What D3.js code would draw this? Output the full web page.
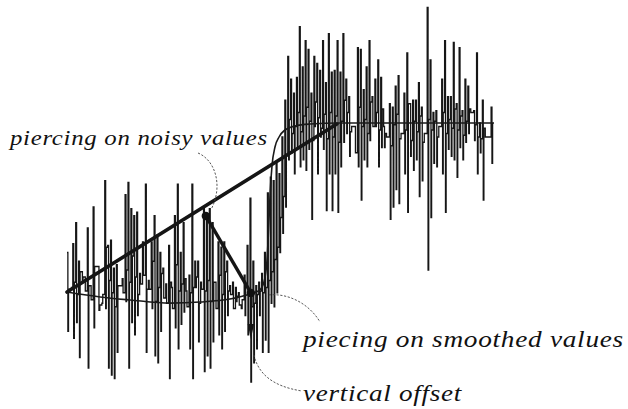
<!DOCTYPE html>
<html>
<head>
<meta charset="utf-8">
<script src="https://cdn.jsdelivr.net/npm/d3@7"></script>
<style>
  html, body { margin: 0; padding: 0; background: #fff; }
  svg { display: block; }
</style>
</head>
<body>
<svg id="chart" width="628" height="409"></svg>
<script>
// Noisy step signal. Each column holds [high, low] spike extremes; the
// matching *Rest arrays give the level the signal settles at until the next column.
// Low plateau sits at 0, high plateau at 10.
const lowSegment = [
  [2.6,-1.9],[0.5,0.5],[3.1,-2.3],[4.3,-1.4],[2.1,-3.4],[1.5,1.0],[1.2,0.4],[4.0,-4.0],
  [0.7,-0.1],[5.2,-1.7],[1.8,1.8],[-0.7,-0.4],[-0.3,0.2],[6.7,-0.6],[3.0,-4.0],[3.3,-4.4],
  [1.7,-4.6],[1.9,-3.1],[0.7,0.7],[1.1,0.3],[5.9,-0.2],[6.6,-4.0],[5.1,-1.4],[4.7,-2.1],
  [4.9,-1.0],[1.4,0.8],[3.2,1.3],[6.5,-3.1],[1.0,0.5],[3.2,-0.6],[4.7,-3.3],[3.6,-3.7],
  [2.6,-1.9],[1.7,0.0],[0.8,-0.3],[3.0,-4.6],[0.6,-0.6],[4.7,-1.7],[6.5,-2.9],[2.6,-1.5],
  [4.3,-0.8],[0.4,-0.5],[1.3,-2.9],[6.5,-4.6],[2.1,0.6],[2.1,-2.5],[0.9,0.5],[5.1,-4.2],
  [4.6,-3.3],[5.1,-4.0],[4.3,-2.5],[0.9,-0.6],[3.2,-2.1],[2.9,-2.9],[3.2,-1.9],[2.1,-1.0],
  [0.7,0.2],[0.9,-0.6],[0.6,-0.2],[0.3,-0.4],[-0.6,-0.1],[1.3,-1.0],[3.0,-2.1],[5.7,-4.8],
  [2.1,-3.7],[0.7,-2.9],[0.9,-1.0]
];
const lowRest = [
  0.5,0.6,0.9,0.2,1.5,1.2,0.4,0.7,-0.1,1.8,1.8,-0.4,0.2,2.9,1.0,0.3,
  -0.5,0.7,0.7,0.3,1.6,0.9,2.4,1.2,0.2,0.8,1.3,0.5,0.5,2.1,-0.2,0.6,
  1.4,0.0,-0.3,0.9,-0.6,1.9,0.4,0.8,1.1,-0.5,0.3,0.6,1.2,-0.3,0.5,0.4,
  1.0,-0.2,0.9,-0.6,1.3,0.2,1.5,0.4,0.2,-0.6,0.1,-0.4,-0.1,0.8,0.3,-0.5,
  -0.3,0.2,0.4
];
const riseSegment = [
  [1.4,-3.1],[2.6,-2.4],[6.0,-3.1],[6.9,-0.3],[6.7,-0.5],[7.7,0.3],[7.1,2.6],[9.2,3.7],
  [11.3,5.2],[13.8,7.9],[12.5,8.3],[11.7,7.1],[12.6,8.6],[15.5,7.5],[13.2,7.9],[14.7,7.3],
  [14.2,8.5],[11.7,4.5],[13.8,9.8],[13.4,7.1],[13.0,9.2],[14.7,8.5]
];
const riseRest = [0.3,0.6,1.0,1.5,2.2,2.9,4.6,5.8,8.2,10.2,9.4,9.8,10.6,9.5,10.4,10.9,10.1,9.0,11.2,10.3,9.7,10.5];
const highSegment = [
  [12.3,5.0],[15.1,7.1],[12.9,5.0],[13.0,7.1],[14.7,4.9],[12.9,7.5],[15.1,8.9],[12.5,9.4],
  [11.5,8.1],[9.8,9.8],[9.8,8.3],[14.3,7.5],[14.2,5.6],[11.9,7.9],[13.2,7.5],[14.7,9.0],
  [11.5,9.8],[12.5,9.8],[13.6,7.5],[12.6,8.6],[9.8,8.6],[9.2,9.2],[11.1,4.5],[10.9,5.2],
  [12.1,6.2],[12.7,5.4],[9.4,9.4],[11.7,7.1],[14.0,4.9],[11.1,8.1],[11.3,7.3],[11.3,7.9],
  [12.3,5.8],[10.9,6.7],[9.4,9.4],[16.6,1.6],[13.6,4.6],[10.6,7.7],[10.7,7.5],[9.8,9.8],
  [12.5,7.1],[14.7,4.9],[11.5,8.5],[11.5,8.1],[14.6,7.9],[11.1,6.9],[14.3,8.6],[10.7,7.9],
  [12.5,8.9],[12.1,9.4],[10.6,10.6],[10.7,9.0],[14.0,7.1],[10.0,8.3],[11.3,5.6],[9.2,9.2],
  [9.2,9.2],[10.9,7.7]
];
const highRest = [
  9.1,10.6,9.2,10.4,8.9,10.1,11.3,10.6,9.5,9.8,8.3,10.9,9.8,10.2,9.4,11.2,
  9.8,10.6,9.6,10.8,9.4,9.2,8.7,9.9,10.5,9.1,9.4,9.6,11.1,9.0,10.1,9.5,
  10.4,8.9,9.4,10.2,9.6,10.1,9.2,9.8,10.6,9.4,10.2,9.7,10.8,9.6,10.4,9.3,
  10.1,10.8,10.6,9.9,9.2,9.1,9.7,9.2,9.2,10.0
];

// Smoothed signal (time, value)
const smoothT = [0, 11.4, 21.7, 35.5, 45.8, 56.1, 63.0, 66.4, 67.8, 68.8, 69.4, 69.9, 70.6, 71.6, 73.0, 75.0, 78.5, 83.6, 94.0, 146.3];
const smoothV = [0.34, 0.06, -0.11, -0.29, -0.23, -0.06, 0.23, 0.46, 0.91, 2.06, 3.89, 5.89, 7.6, 8.63, 9.2, 9.6, 9.83, 9.94, 10, 10];

// Chord between the two plateau anchors
const chordT = [0, 92.9];
const chordV = [0.34, 9.94];

// Piercing points and the vertical offset
const pierceNoisy = {t: 47.8, v: 4.69};
const pierceSmooth = {t: 63.3, v: 0.29};
const offsetTip = {t: 63.3, v: -2.34};

const labels = ["piercing on noisy values", "piecing on smoothed values", "vertical offset"];

const columns = lowSegment.concat(riseSegment, highSegment);
const rests = lowRest.concat(riseRest, highRest);
const nCols = columns.length;
// spike up, spike down, then settle for the rest of the column
const samples = [];
columns.forEach((c, k) => {
  samples.push([k, c[0]]);
  samples.push([k + 0.3, c[1]]);
  samples.push([k + 0.52, rests[k]]);
});
samples.push([nCols, rests[nCols - 1]]);

const svg = d3.select("#chart");
const x = d3.scaleLinear().domain([0, nCols]).range([67, 494]);
const y = d3.scaleLinear().domain([0, 10]).range([298, 123]);

// noisy signal
svg.append("path")
  .datum(samples)
  .attr("fill", "none")
  .attr("stroke", "#161616")
  .attr("stroke-width", 1.3)
  .attr("d", d3.line().x(d => x(d[0])).y(d => y(d[1])).curve(d3.curveStepAfter));

// smoothed signal
const smooth = smoothT.map((t, i) => [t, smoothV[i]]);
svg.append("path")
  .datum(smooth)
  .attr("fill", "none")
  .attr("stroke", "#1a1a1a")
  .attr("stroke-width", 1.6)
  .attr("d", d3.line().x(d => x(d[0])).y(d => y(d[1])).curve(d3.curveMonotoneX));

// chord
svg.append("line")
  .attr("x1", x(chordT[0])).attr("y1", y(chordV[0]))
  .attr("x2", x(chordT[1])).attr("y2", y(chordV[1]))
  .attr("stroke", "#151515").attr("stroke-width", 3.6).attr("stroke-linecap", "round");

// arrow from noisy piercing to smoothed piercing
svg.append("line")
  .attr("x1", x(pierceNoisy.t)).attr("y1", y(pierceNoisy.v))
  .attr("x2", x(pierceSmooth.t)).attr("y2", y(pierceSmooth.v))
  .attr("stroke", "#151515").attr("stroke-width", 3.4);

// vertical offset arrow
const tipX = x(offsetTip.t), tipY = y(offsetTip.v);
svg.append("line")
  .attr("x1", tipX).attr("y1", y(pierceSmooth.v))
  .attr("x2", tipX).attr("y2", tipY - 10)
  .attr("stroke", "#151515").attr("stroke-width", 2.4);
svg.append("path")
  .attr("d", `M${tipX},${tipY} L${tipX - 3.2},${tipY - 15} L${tipX + 3.2},${tipY - 15} Z`)
  .attr("fill", "#151515");

// piercing dots
[pierceNoisy, pierceSmooth].forEach(p => {
  svg.append("circle").attr("cx", x(p.t)).attr("cy", y(p.v)).attr("r", 4.2).attr("fill", "#111");
});

// dashed callouts
const callout = (d) => svg.append("path").attr("d", d)
  .attr("fill", "none").attr("stroke", "#444").attr("stroke-width", 0.9)
  .attr("stroke-dasharray", "2.2,1.6");
const n1x = x(pierceNoisy.t), n1y = y(pierceNoisy.v);
callout(`M198,153 C215,160 223,185 ${n1x + 6},${n1y - 8}`);
const s1x = x(pierceSmooth.t), s1y = y(pierceSmooth.v);
callout(`M${s1x + 18},${s1y + 2} C290,293 310,305 320,322`);
callout(`M${tipX + 3},${tipY + 16} C258,372 270,386 302,391`);

// labels: serif italic, widened horizontally to the wanted span
const label = (txt, lx, ly, size, span) => {
  const g = svg.append("g").attr("transform", `translate(${lx},${ly})`);
  const t = g.append("text")
    .style("font-family", '"Liberation Serif"')
    .style("font-style", "italic")
    .style("font-size", size + "px")
    .style("letter-spacing", "0.6px")
    .attr("fill", "#111")
    .text(txt);
  const w = t.node().getComputedTextLength();
  t.attr("transform", `scale(${span / w},1)`);
};
label(labels[0], 10, 145, 20.5, 258);
label(labels[1], 303, 347, 23, 321);
label(labels[2], 303, 401, 23, 159);
</script>
</body>
</html>
